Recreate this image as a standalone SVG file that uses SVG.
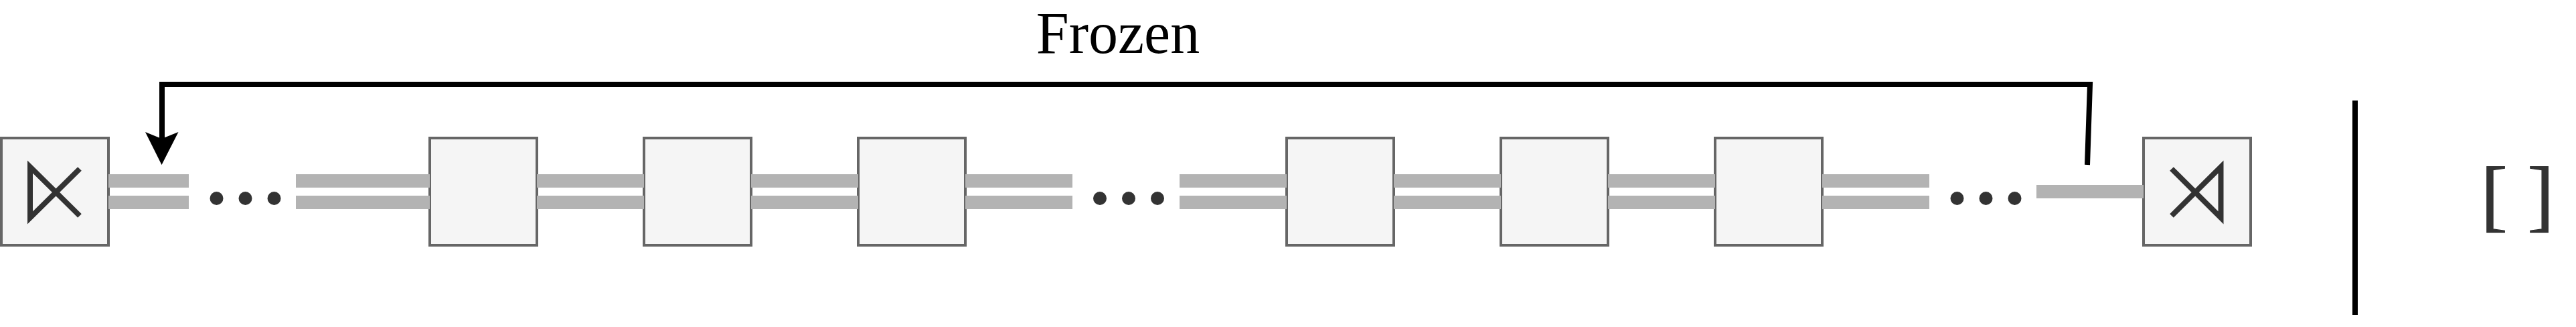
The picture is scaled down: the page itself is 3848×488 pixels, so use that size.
<svg xmlns="http://www.w3.org/2000/svg" width="3848" height="488" viewBox="0 0 3848 488">
<style>
.box{fill:#f5f5f5;stroke:#666;stroke-width:4}
.icon{fill:none;stroke:#333;stroke-width:8}
.bar{fill:#b3b3b3}
.dot{fill:#333}
.wire{fill:none;stroke:#000;stroke-width:8}
.sep{fill:#000}
.frozen{font-family:"Liberation Serif",serif;font-size:88px;fill:#000;text-anchor:middle}
.bracket{font-family:"Liberation Serif",serif;font-size:119px;fill:#333;stroke:#333;stroke-width:1.200}
</style>
<defs>
<path id="dbl" class="bar" d="M0 260h160v20H0zM0 292h160v20H0z"/>
<g id="dots"><circle class="dot" cx="0" cy="296" r="10"/><circle class="dot" cx="43" cy="296" r="10"/><circle class="dot" cx="86" cy="296" r="10"/></g>
</defs>
<rect width="3848" height="488" fill="#fff"/>
<g id="start"><rect class="box" x="2" y="206" width="160" height="160"/><path class="icon" d="M119 252L45 325V249L119 322"/></g>
<g id="block1"><rect class="box" x="642" y="206" width="160" height="160"/></g>
<g id="block2"><rect class="box" x="962" y="206" width="160" height="160"/></g>
<g id="block3"><rect class="box" x="1282" y="206" width="160" height="160"/></g>
<g id="block4"><rect class="box" x="1922" y="206" width="160" height="160"/></g>
<g id="block5"><rect class="box" x="2242" y="206" width="160" height="160"/></g>
<g id="block6"><rect class="box" x="2562" y="206" width="160" height="160"/></g>
<g id="end"><rect class="box" x="3202" y="206" width="160" height="160"/><path class="icon" d="M3244 252L3317.500 325V249L3244 322"/></g>
<g id="connectors">
<rect class="bar" x="162" y="260" width="120" height="20"/><rect class="bar" x="162" y="292" width="120" height="20"/>
<rect class="bar" x="442" y="260" width="200" height="20"/><rect class="bar" x="442" y="292" width="200" height="20"/>
<use href="#dbl" x="802"/><use href="#dbl" x="1122"/><use href="#dbl" x="1442"/>
<use href="#dbl" x="1762"/><use href="#dbl" x="2082"/><use href="#dbl" x="2402"/><use href="#dbl" x="2722"/>
<rect class="bar" x="3042" y="276" width="160" height="20"/>
<path class="wire" d="M3118 246L3122 126H242V212"/>
<path d="M241.500 246L217 197L241.500 207L266.500 197Z" fill="#000"/>
</g>
<use href="#dots" x="323.500"/><use href="#dots" x="1643"/><use href="#dots" x="2923.500"/>
<rect class="sep" x="3514" y="150" width="8" height="320"/>
<text class="frozen" x="1670" y="79">Frozen</text>
<text class="bracket" x="3706" y="331">[ ]</text>
</svg>
